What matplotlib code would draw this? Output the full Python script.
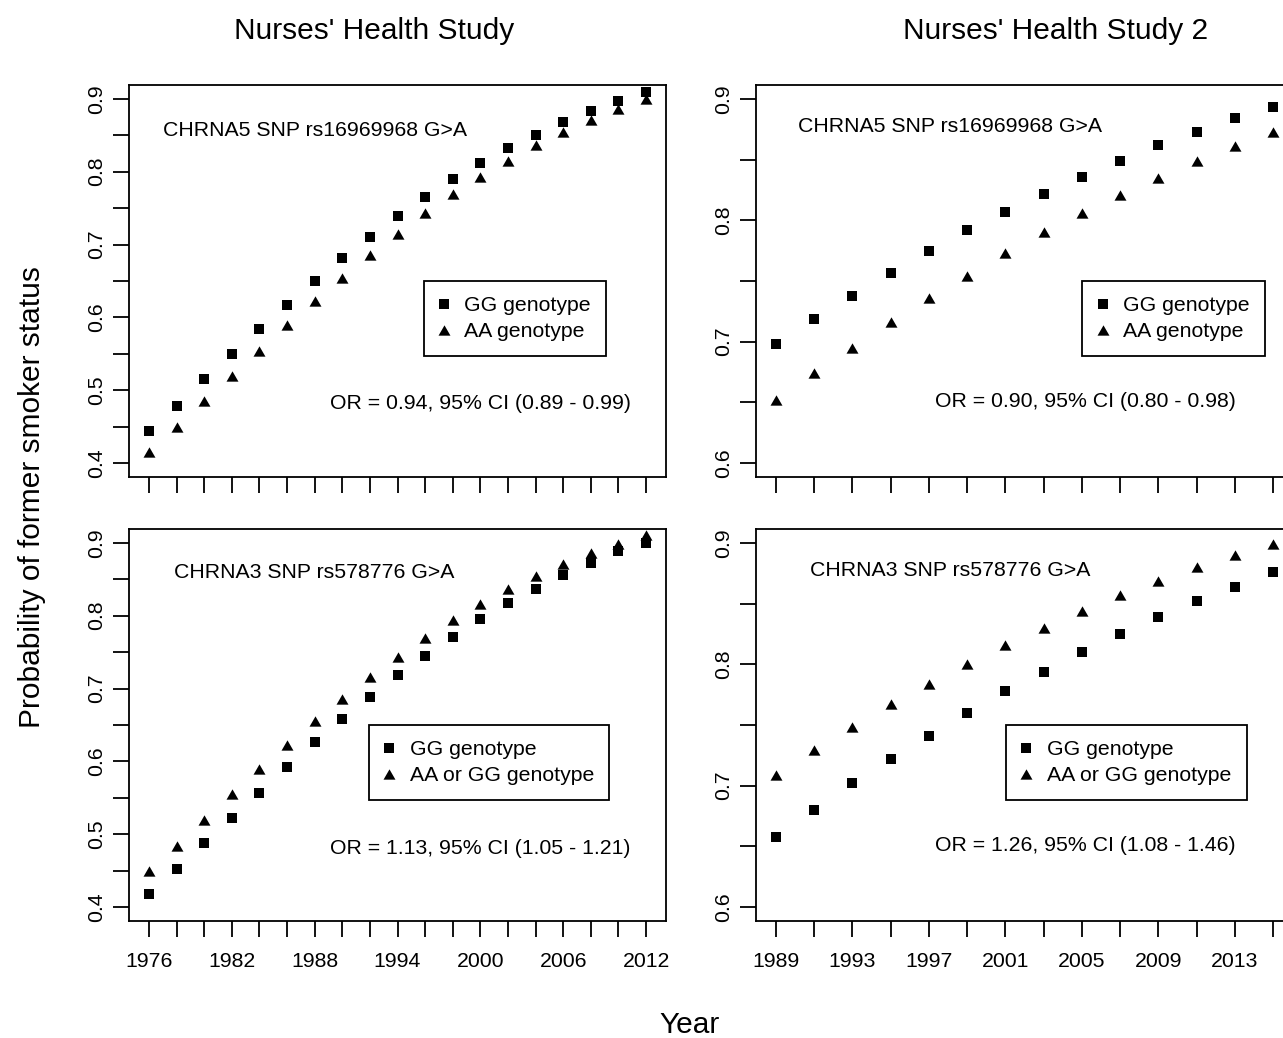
import matplotlib
matplotlib.use('Agg')
import matplotlib.pyplot as plt

plt.rcParams['font.family'] = ['Liberation Sans', 'DejaVu Sans']

# --- data ---
years_nhs = [1976, 1978, 1980, 1982, 1984, 1986, 1988, 1990, 1992, 1994,
             1996, 1998, 2000, 2002, 2004, 2006, 2008, 2010, 2012]
years_nhs2 = [1989, 1991, 1993, 1995, 1997, 1999, 2001, 2003, 2005, 2007,
              2009, 2011, 2013, 2015]

# CHRNA5 rs16969968, NHS
nhs_a5_gg = [0.444, 0.479, 0.515, 0.550, 0.584, 0.617, 0.650, 0.681, 0.711, 0.739,
             0.765, 0.790, 0.812, 0.832, 0.851, 0.868, 0.883, 0.897, 0.909]
nhs_a5_aa = [0.415, 0.449, 0.485, 0.520, 0.554, 0.589, 0.622, 0.654, 0.685, 0.715,
             0.743, 0.769, 0.793, 0.815, 0.836, 0.855, 0.871, 0.886, 0.900]
# CHRNA3 rs578776, NHS
nhs_a3_gg = [0.418, 0.453, 0.488, 0.523, 0.557, 0.592, 0.626, 0.658, 0.688, 0.718,
             0.745, 0.771, 0.795, 0.817, 0.837, 0.856, 0.873, 0.889, 0.900]
nhs_a3_aa = [0.449, 0.484, 0.519, 0.555, 0.589, 0.623, 0.655, 0.685, 0.716, 0.743,
             0.769, 0.794, 0.816, 0.836, 0.854, 0.871, 0.886, 0.899, 0.911]
# CHRNA5 rs16969968, NHS2
nhs2_a5_gg = [0.698, 0.719, 0.738, 0.757, 0.775, 0.792, 0.807, 0.822, 0.836, 0.849,
              0.862, 0.873, 0.884, 0.893]
nhs2_a5_aa = [0.652, 0.674, 0.695, 0.716, 0.736, 0.754, 0.773, 0.790, 0.806, 0.821,
              0.835, 0.849, 0.861, 0.873]
# CHRNA3 rs578776, NHS2
nhs2_a3_gg = [0.658, 0.680, 0.702, 0.722, 0.741, 0.760, 0.778, 0.794, 0.810, 0.825,
              0.839, 0.852, 0.864, 0.876]
nhs2_a3_aa = [0.709, 0.729, 0.748, 0.767, 0.784, 0.800, 0.816, 0.830, 0.844, 0.857,
              0.869, 0.880, 0.890, 0.899]

xlabels_nhs = ['1976', '', '', '1982', '', '', '1988', '', '', '1994', '', '',
               '2000', '', '', '2006', '', '', '2012']
xlabels_nhs2 = ['1989', '', '1993', '', '1997', '', '2001', '', '2005', '',
                '2009', '', '2013', '']
yticks_nhs = [0.40, 0.45, 0.50, 0.55, 0.60, 0.65, 0.70, 0.75, 0.80, 0.85, 0.90]
ylabels_nhs = ['0.4', '', '0.5', '', '0.6', '', '0.7', '', '0.8', '', '0.9']
yticks_nhs2 = [0.60, 0.65, 0.70, 0.75, 0.80, 0.85, 0.90]
ylabels_nhs2 = ['0.6', '', '0.7', '', '0.8', '', '0.9']

W, H = 1283, 1038
fs = 15.3
fig = plt.figure(figsize=(W / 100, H / 100), dpi=100)

tri = [(-1, -0.866), (1, -0.866), (0, 0.866)]


def panel(left, bottom, years, gg, aa, snp, aa_label, or_text, xlabels, yticks, ylabels,
          xlim, ylim, snp_xy, or_xy, leg_x, show_x):
    ax = fig.add_axes([left / W, 1 - bottom / H, 537 / W, 392 / H])
    ax.plot(years, gg, 's', color='k', ms=7.6, mew=0, label='GG genotype')
    ax.plot(years, aa, marker=tri, ls='none', color='k', ms=8.6, mew=0, label=aa_label)
    ax.set_xlim(*xlim)
    ax.set_ylim(*ylim)
    ax.set_xticks(years)
    ax.set_xticklabels(xlabels if show_x else [''] * len(years))
    ax.set_yticks(yticks)
    ax.set_yticklabels(ylabels, rotation=90, va='center')
    ax.tick_params(direction='out', length=11.5, width=1.3, labelsize=fs, color='k')
    ax.tick_params(axis='x', pad=10.5)
    ax.tick_params(axis='y', pad=5)
    for s in ax.spines.values():
        s.set_linewidth(1.3)
        s.set_color('k')
    ax.text(snp_xy[0], snp_xy[1], snp, fontsize=fs, ha='center', va='center')
    ax.text(or_xy[0], or_xy[1], or_text, fontsize=fs, ha='center', va='center')
    leg = ax.legend(loc='upper left', bbox_to_anchor=(leg_x, 0.5), fontsize=fs,
                    numpoints=1, fancybox=False, framealpha=1, edgecolor='k',
                    borderpad=0.72, handlelength=0.45, handletextpad=0.74,
                    labelspacing=0.32, borderaxespad=0)
    leg.get_frame().set_linewidth(1.3)
    return ax


xlim_l = (1974.56, 2013.44)
xlim_r = (1987.96, 2016.04)
ylim_l = (0.381, 0.919)
ylim_r = (0.5885, 0.9115)

panel(129, 477, years_nhs, nhs_a5_gg, nhs_a5_aa, 'CHRNA5 SNP rs16969968 G>A', 'AA genotype',
      'OR = 0.94, 95% CI (0.89 - 0.99)', xlabels_nhs, yticks_nhs, ylabels_nhs,
      xlim_l, ylim_l, (1988, 0.856), (2000, 0.482), 0.549, False)
panel(129, 921, years_nhs, nhs_a3_gg, nhs_a3_aa, 'CHRNA3 SNP rs578776 G>A', 'AA or GG genotype',
      'OR = 1.13, 95% CI (1.05 - 1.21)', xlabels_nhs, yticks_nhs, ylabels_nhs,
      xlim_l, ylim_l, (1988, 0.859), (2000, 0.481), 0.447, True)
panel(756, 477, years_nhs2, nhs2_a5_gg, nhs2_a5_aa, 'CHRNA5 SNP rs16969968 G>A', 'AA genotype',
      'OR = 0.90, 95% CI (0.80 - 0.98)', xlabels_nhs2, yticks_nhs2, ylabels_nhs2,
      xlim_r, ylim_r, (1998.1, 0.877), (2005.2, 0.651), 0.608, False)
panel(756, 921, years_nhs2, nhs2_a3_gg, nhs2_a3_aa, 'CHRNA3 SNP rs578776 G>A', 'AA or GG genotype',
      'OR = 1.26, 95% CI (1.08 - 1.46)', xlabels_nhs2, yticks_nhs2, ylabels_nhs2,
      xlim_r, ylim_r, (1998.1, 0.877), (2005.2, 0.6505), 0.466, True)

fig.text(374 / W, 1 - 31 / H, "Nurses' Health Study", fontsize=21.5, ha='center', va='center')
fig.text(1056 / W, 1 - 31 / H, "Nurses' Health Study 2", fontsize=21.5, ha='center', va='center')
fig.text(690 / W, 1 - 1025 / H, 'Year', fontsize=21.5, ha='center', va='center')
fig.text(32 / W, 1 - 497 / H, 'Probability of former smoker status', fontsize=21.5,
         ha='center', va='center', rotation=90)

fig.savefig('out.png', dpi=100)
